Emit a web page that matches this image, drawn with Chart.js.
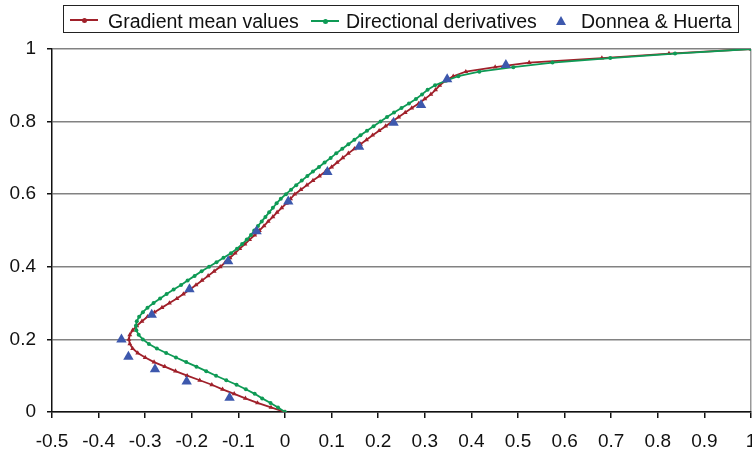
<!DOCTYPE html>
<html>
<head>
<meta charset="utf-8">
<script src="https://cdn.jsdelivr.net/npm/chart.js@4.4.1/dist/chart.umd.min.js"></script>
<style>
  body { margin: 0; background: #fff; }
  #wrap { position: relative; width: 752px; height: 453px; font-family: "Liberation Sans", Arial, sans-serif; }
  #chart { position: absolute; left: 0; top: 0; }
  .lg-box { position: absolute; left: 63px; top: 5px; width: 676px; height: 28px; box-sizing: border-box; border: 1px solid #222; background: #fff; }
  .lg-line { position: absolute; height: 2px; top: 19px; width: 28px; }
  .lg-text { position: absolute; top: 8px; line-height: 26px; font-size: 19.5px; color: #111; white-space: nowrap; }
  .lg-dot { position: absolute; width: 5px; height: 5px; border-radius: 50%; top: 17.5px; }
  .lg-tri { position: absolute; width: 0; height: 0; border-left: 5.5px solid transparent; border-right: 5.5px solid transparent; border-bottom: 9px solid #3d58ad; top: 16px; left: 556px; }
</style>
</head>
<body>
<div id="wrap">
  <canvas id="chart" width="752" height="453"></canvas>
  <div class="lg-box"></div>
  <div class="lg-line" style="left:70px;background:#a0202a"></div>
  <div class="lg-dot" style="left:82px;background:#a0202a"></div>
  <div class="lg-text" style="left:108px">Gradient mean values</div>
  <div class="lg-line" style="left:311px;background:#0e9a55;top:20px"></div>
  <div class="lg-dot" style="left:323px;background:#0e9a55;top:18.5px"></div>
  <div class="lg-text" style="left:346px">Directional derivatives</div>
  <div class="lg-tri"></div>
  <div class="lg-text" style="left:581px">Donnea &amp; Huerta</div>
</div>
<script>
// y positions shared by both computed profiles
const yLevels = [
  0, 0.0125, 0.025, 0.0375, 0.05, 0.0625, 0.075, 0.0875, 0.1, 0.1125,
  0.125, 0.1375, 0.15, 0.1625, 0.175, 0.1875, 0.2, 0.2125, 0.225, 0.2375,
  0.25, 0.2625, 0.275, 0.2875, 0.3, 0.3125, 0.325, 0.3375, 0.35, 0.3625,
  0.375, 0.3875, 0.4, 0.4125, 0.425, 0.4375, 0.45, 0.4625, 0.475, 0.4875,
  0.5, 0.5125, 0.525, 0.5375, 0.55, 0.5625, 0.575, 0.5875, 0.6, 0.6125,
  0.625, 0.6375, 0.65, 0.6625, 0.675, 0.6875, 0.7, 0.7125, 0.725, 0.7375,
  0.75, 0.7625, 0.775, 0.7875, 0.8, 0.8125, 0.825, 0.8375, 0.85, 0.8625,
  0.875, 0.8875, 0.9, 0.9125, 0.925, 0.9375, 0.95, 0.9625, 0.975, 0.9875,
  1
];

const gradientMean = [
  0, -0.030, -0.059, -0.085, -0.109, -0.134, -0.157, -0.183, -0.210, -0.235,
  -0.258, -0.281, -0.300, -0.316, -0.327, -0.333, -0.335, -0.333, -0.327, -0.318,
  -0.307, -0.295, -0.280, -0.264, -0.248, -0.232, -0.218, -0.204, -0.191, -0.178,
  -0.165, -0.152, -0.139, -0.128, -0.118, -0.107, -0.097, -0.086, -0.076, -0.065,
  -0.055, -0.045, -0.036, -0.026, -0.017, -0.007, 0.003, 0.012, 0.021, 0.034,
  0.047, 0.060, 0.074, 0.087, 0.100, 0.112, 0.124, 0.136, 0.149, 0.162,
  0.175, 0.188, 0.202, 0.216, 0.230, 0.244, 0.258, 0.272, 0.287, 0.300,
  0.313, 0.323, 0.332, 0.344, 0.361, 0.388, 0.451, 0.524, 0.680, 0.824,
  1
];

const directional = [
  0, -0.015, -0.031, -0.049, -0.065, -0.084, -0.104, -0.126, -0.148, -0.169,
  -0.190, -0.212, -0.234, -0.255, -0.275, -0.292, -0.305, -0.314, -0.319, -0.320,
  -0.318, -0.313, -0.305, -0.295, -0.282, -0.268, -0.254, -0.239, -0.223, -0.209,
  -0.194, -0.179, -0.163, -0.147, -0.132, -0.116, -0.103, -0.092, -0.082, -0.073,
  -0.066, -0.058, -0.050, -0.042, -0.034, -0.026, -0.018, -0.009, 0.002, 0.013,
  0.024, 0.036, 0.048, 0.060, 0.073, 0.085, 0.098, 0.110, 0.123, 0.136,
  0.149, 0.162, 0.176, 0.190, 0.205, 0.219, 0.234, 0.250, 0.266, 0.281,
  0.294, 0.306, 0.322, 0.345, 0.372, 0.417, 0.490, 0.574, 0.698, 0.837,
  1
];

// reference data (Donnea & Huerta)
const refX = [-0.119, -0.211, -0.279, -0.336, -0.351, -0.286, -0.205, -0.122, -0.061, 0.007, 0.091, 0.159, 0.233, 0.292, 0.348, 0.474];
const refY = [0.039, 0.084, 0.118, 0.152, 0.200, 0.268, 0.338, 0.415, 0.498, 0.580, 0.661, 0.731, 0.797, 0.846, 0.917, 0.956];

const xTicks = { min: -0.5, max: 1, step: 0.1 };
const yTicks = { min: 0, max: 1, step: 0.2 };

const RED = '#a0202a';
const GREEN = '#0e9a55';
const BLUE = '#3d58ad';
const FONT = { family: '"Liberation Sans", Arial, sans-serif', size: 19 };

function pts(xs, ys) {
  return xs.map((x, i) => ({ x, y: ys[i] }));
}

function fmt(v) {
  return String(Math.round(v * 10) / 10);
}

new Chart(document.getElementById('chart').getContext('2d'), {
  type: 'scatter',
  data: {
    datasets: [
      {
        label: 'Donnea & Huerta',
        data: pts(refX, refY),
        pointStyle: 'triangle',
        pointRadius: 6,
        backgroundColor: BLUE,
        borderColor: BLUE,
        borderWidth: 0,
        showLine: false,
        order: 0
      },
      {
        label: 'Directional derivatives',
        data: pts(directional, yLevels),
        showLine: true,
        borderColor: GREEN,
        backgroundColor: GREEN,
        borderWidth: 1.8,
        pointStyle: 'circle',
        pointRadius: 2,
        pointBorderWidth: 0,
        tension: 0,
        order: 1
      },
      {
        label: 'Gradient mean values',
        data: pts(gradientMean, yLevels),
        showLine: true,
        borderColor: RED,
        backgroundColor: RED,
        borderWidth: 1.8,
        pointStyle: 'triangle',
        pointRadius: 2.8,
        pointBorderWidth: 0,
        tension: 0,
        order: 2
      }
    ]
  },
  options: {
    responsive: false,
    animation: false,
    devicePixelRatio: 1,
    layout: { autoPadding: false, padding: { top: 49, right: 1, left: 0, bottom: 0 } },
    plugins: { legend: { display: false }, tooltip: { enabled: false } },
    scales: {
      x: {
        type: 'linear',
        min: xTicks.min,
        max: xTicks.max,
        afterFit: (s) => { s.height = 41; s.paddingLeft = 0; s.paddingRight = 0; },
        ticks: { stepSize: xTicks.step, font: FONT, color: '#111', padding: 12, maxRotation: 0, autoSkip: false, callback: fmt },
        grid: {
          drawOnChartArea: true,
          color: (c) => (c.tick && Math.abs(c.tick.value - 1) < 1e-6 ? '#999' : 'rgba(0,0,0,0)'),
          lineWidth: 1.5,
          tickColor: '#111',
          tickLength: 6,
          tickWidth: 1.5
        },
        border: { color: '#111', width: 1.5 }
      },
      y: {
        type: 'linear',
        min: yTicks.min,
        max: yTicks.max,
        afterFit: (s) => { s.width = 52; s.paddingTop = 0; s.paddingBottom = 0; },
        ticks: { stepSize: yTicks.step, font: FONT, color: '#111', padding: 11, callback: fmt },
        grid: {
          color: '#828282',
          lineWidth: 1.5,
          tickColor: '#111',
          tickLength: 5,
          tickWidth: 1.5
        },
        border: { color: '#111', width: 1.5 }
      }
    }
  }
});
</script>
</body>
</html>
